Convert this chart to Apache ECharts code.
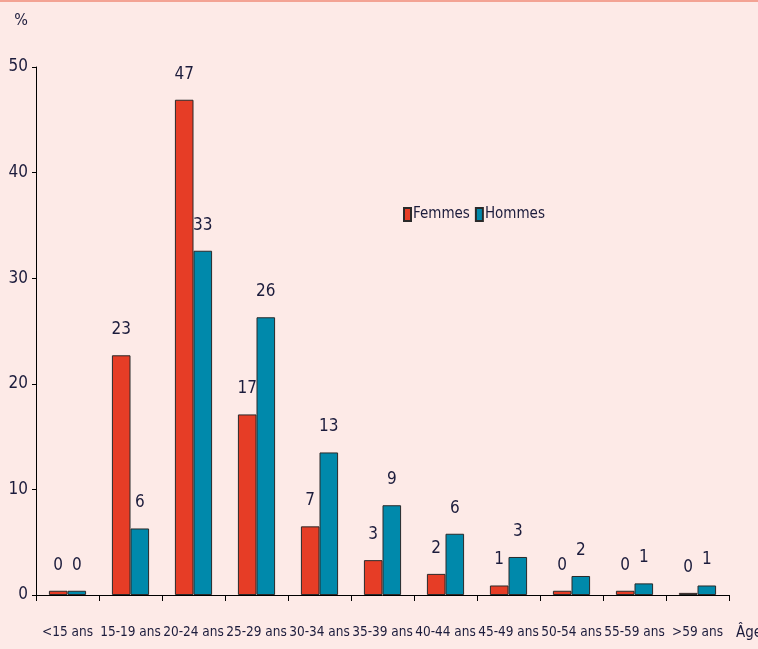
<!DOCTYPE html>
<html>
<head>
<meta charset="utf-8">
<script src="https://cdn.jsdelivr.net/npm/echarts@6/dist/echarts.min.js"></script>
<style>
  html, body { margin: 0; padding: 0; background: #fdeae7; }
  #chart { width: 758px; height: 649px; border-top: 2px solid #f3a394; box-sizing: border-box; }
</style>
</head>
<body>
<div id="chart"></div>
<script>
// tranches d'âge
var categories = ["<15 ans", "15-19 ans", "20-24 ans", "25-29 ans", "30-34 ans", "35-39 ans",
  "40-44 ans", "45-49 ans", "50-54 ans", "55-59 ans", ">59 ans"];
// pourcentages
var femmes = [0.4, 22.7, 46.9, 17.1, 6.5, 3.3, 2.0, 0.9, 0.4, 0.4, 0.2];
var hommes = [0.4, 6.3, 32.6, 26.3, 13.5, 8.5, 5.8, 3.6, 1.8, 1.1, 0.9];
// étiquettes affichées au-dessus des barres
var femmesLabels = [0, 23, 47, 17, 7, 3, 2, 1, 0, 0, 0];
var hommesLabels = [0, 6, 33, 26, 13, 9, 6, 3, 2, 1, 1];
var yTicks = [0, 10, 20, 30, 40, 50];

var FONT = "'DejaVu Sans Condensed', 'Liberation Sans Narrow', sans-serif";
var TXT = "#1c1c3c";

var chart = echarts.init(document.getElementById("chart"));

function barLabel(labels) {
  return {
    show: true,
    position: "top",
    distance: 17,
    fontFamily: FONT,
    fontSize: 17,
    color: TXT,
    formatter: function (p) { return labels[p.dataIndex]; }
  };
}

var option = {
  backgroundColor: "#fdeae7",
  animation: false,
  grid: { left: 36, right: 29, top: 65, bottom: 54, outerBoundsMode: "none", containLabel: false },
  legend: {
    data: ["Femmes", "Hommes"],
    left: 398,
    top: 200,
    icon: "rect",
    itemWidth: 7,
    itemHeight: 13,
    itemGap: 5,
    textStyle: { fontFamily: FONT, fontSize: 15, color: TXT, padding: [0, 0, 0, -3] }
  },
  xAxis: {
    type: "category",
    data: categories,
    name: "Âge",
    nameLocation: "end",
    nameGap: 7,
    nameTextStyle: { fontFamily: FONT, fontSize: 15, color: TXT, verticalAlign: "top", padding: [31, 0, 0, 0] },
    axisLine: { lineStyle: { color: "#000", width: 1 } },
    axisTick: { show: true, length: 6, lineStyle: { color: "#000" } },
    axisLabel: { fontFamily: FONT, fontSize: 13.5, color: TXT, margin: 30, interval: 0 }
  },
  yAxis: {
    type: "value",
    min: 0,
    max: 50,
    interval: 10,
    name: "%",
    nameLocation: "end",
    nameGap: 38,
    nameTextStyle: { fontFamily: FONT, fontSize: 16, color: TXT, align: "right", padding: [0, 8, 0, 0] },
    axisLine: { show: true, lineStyle: { color: "#000", width: 1 } },
    axisTick: { show: true, length: 4, lineStyle: { color: "#000" } },
    splitLine: { show: false },
    axisLabel: {
      fontFamily: FONT, fontSize: 17, color: TXT, margin: 8,
      formatter: function (v) { return yTicks.indexOf(v) >= 0 ? v : ""; }
    }
  },
  series: [
    {
      name: "Femmes",
      type: "bar",
      data: femmes,
      barGap: "0%",
      barCategoryGap: "41%",
      itemStyle: { color: "#e63d26", borderColor: "#2a2a2a", borderWidth: 1 },
      label: barLabel(femmesLabels)
    },
    {
      name: "Hommes",
      type: "bar",
      data: hommes,
      itemStyle: { color: "#0089ab", borderColor: "#2a2a2a", borderWidth: 1 },
      label: barLabel(hommesLabels)
    }
  ]
};

chart.setOption(option);
</script>
</body>
</html>
